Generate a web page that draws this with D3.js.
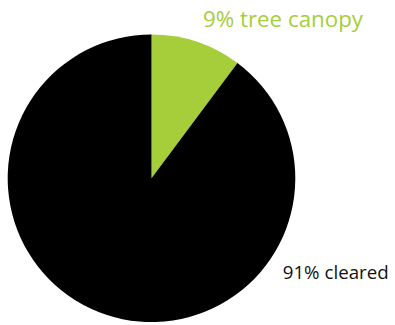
<!DOCTYPE html>
<html><head><meta charset="utf-8">
<script src="https://cdn.jsdelivr.net/npm/d3@7"></script>
<style>html,body{margin:0;padding:0;background:#fff;}svg{display:block;}</style>
</head><body>
<svg id="chart" width="395" height="325"></svg>
<script>
const categories = ["tree canopy", "cleared"];
const sliceShares = [10.2, 89.8];          // wedge sizes as drawn in the picture
const labelTexts = ["9% tree canopy", "91% cleared"];
const colors = ["#a6cd3a", "#000000"];

const svg = d3.select("#chart");
const cx = 151.5, cy = 178.3, r = 143.8;

const pie = d3.pie().sort(null).value(d => d)(sliceShares);
const arc = d3.arc().innerRadius(0).outerRadius(r);
const color = d3.scaleOrdinal().domain(categories).range(colors);

const g = svg.append("g").attr("transform", `translate(${cx},${cy})`);
g.selectAll("path").data(pie).join("path")
  .attr("d", arc)
  .attr("fill", (d, i) => color(categories[i]));

const labelPos = [
  {x: 203, y: 27.3, size: 21, fill: colors[0], w: 160},
  {x: 282.7, y: 279, size: 19, fill: "#111", w: 106}
];
svg.selectAll("text.lbl").data(labelTexts).join("text")
  .attr("class", "lbl")
  .attr("x", (d, i) => labelPos[i].x)
  .attr("y", (d, i) => labelPos[i].y)
  .attr("font-family", "'Open Sans', sans-serif")
  .attr("font-size", (d, i) => labelPos[i].size)
  .attr("fill", (d, i) => labelPos[i].fill)
  .attr("textLength", (d, i) => labelPos[i].w)
  .attr("lengthAdjust", "spacingAndGlyphs")
  .text(d => d);
</script>
</body></html>
